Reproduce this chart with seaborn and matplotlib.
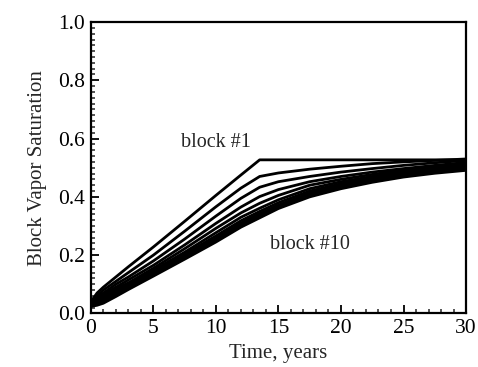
import numpy as np
import pandas as pd
import matplotlib.pyplot as plt
import seaborn as sns
from matplotlib.ticker import MultipleLocator

sns.set_style("ticks")
plt.rcParams['font.family'] = ['Liberation Serif', 'DejaVu Serif']

# time axis (years)
time = [0, 0.5, 1, 2, 3, 5, 7.5, 10, 12, 13.5, 15, 17.5, 20, 22.5, 25, 27.5, 30]

# block vapor saturation, one list per matrix block
block1 = [0.040, 0.070, 0.090, 0.125, 0.160, 0.228, 0.316, 0.405, 0.475, 0.527,
          0.527, 0.527, 0.527, 0.527, 0.527, 0.527, 0.527]
block2 = [0.035, 0.060, 0.080, 0.110, 0.140, 0.200, 0.282, 0.366, 0.430, 0.470,
          0.482, 0.495, 0.505, 0.514, 0.520, 0.525, 0.530]
block3 = [0.033, 0.055, 0.070, 0.100, 0.125, 0.180, 0.255, 0.334, 0.395, 0.433,
          0.452, 0.470, 0.485, 0.497, 0.508, 0.517, 0.525]
block4 = [0.032, 0.050, 0.065, 0.090, 0.115, 0.165, 0.235, 0.309, 0.365, 0.401,
          0.425, 0.452, 0.470, 0.485, 0.497, 0.508, 0.518]
block5 = [0.030, 0.045, 0.060, 0.085, 0.105, 0.155, 0.222, 0.292, 0.345, 0.378,
          0.405, 0.440, 0.460, 0.477, 0.492, 0.503, 0.513]
block6 = [0.030, 0.040, 0.055, 0.080, 0.100, 0.148, 0.210, 0.277, 0.330, 0.361,
          0.390, 0.428, 0.452, 0.470, 0.486, 0.498, 0.508]
block7 = [0.028, 0.037, 0.050, 0.075, 0.095, 0.142, 0.203, 0.266, 0.318, 0.350,
          0.380, 0.420, 0.445, 0.465, 0.481, 0.494, 0.504]
block8 = [0.026, 0.034, 0.045, 0.070, 0.090, 0.137, 0.197, 0.258, 0.310, 0.342,
          0.372, 0.413, 0.440, 0.460, 0.477, 0.490, 0.500]
block9 = [0.025, 0.031, 0.040, 0.065, 0.087, 0.133, 0.192, 0.252, 0.303, 0.335,
          0.366, 0.407, 0.435, 0.456, 0.473, 0.486, 0.496]
block10 = [0.024, 0.028, 0.035, 0.058, 0.082, 0.128, 0.186, 0.245, 0.296, 0.328,
           0.360, 0.400, 0.428, 0.450, 0.468, 0.481, 0.491]

blocks = [block1, block2, block3, block4, block5,
          block6, block7, block8, block9, block10]

rows = []
for i, vals in enumerate(blocks):
    for t, s in zip(time, vals):
        rows.append({"Time": t, "Saturation": s, "Block": f"block #{i + 1}"})
df = pd.DataFrame(rows)

fig = plt.figure(figsize=(4.78, 3.67), dpi=100)
ax = fig.add_axes([0.19, 0.146, 0.785, 0.794])

sns.lineplot(data=df, x="Time", y="Saturation", hue="Block",
             palette=["black"] * 10, linewidth=2.0, legend=False, ax=ax)

ax.set_xlim(0, 30)
ax.set_ylim(0, 1.0)
ax.xaxis.set_major_locator(MultipleLocator(5))
ax.xaxis.set_minor_locator(MultipleLocator(1))
ax.yaxis.set_major_locator(MultipleLocator(0.2))
ax.yaxis.set_minor_locator(MultipleLocator(0.02))
ax.yaxis.set_major_formatter(plt.FormatStrFormatter('%.1f'))
ax.tick_params(which='major', direction='in', length=6, width=1.3,
               labelsize=15.5, colors='black', pad=4)
ax.tick_params(which='minor', direction='in', length=3, width=1.1)
for sp in ax.spines.values():
    sp.set_visible(True)
    sp.set_linewidth(1.6)
    sp.set_color('black')

ax.set_xlabel("Time, years", fontsize=15, labelpad=4)
ax.set_ylabel("Block Vapor Saturation", fontsize=15, labelpad=8)

ax.text(10, 0.585, "block #1", fontsize=14.5, ha='center', va='center')
ax.text(17.5, 0.235, "block #10", fontsize=14.5, ha='center', va='center')

plt.savefig("out.png", dpi=100)
